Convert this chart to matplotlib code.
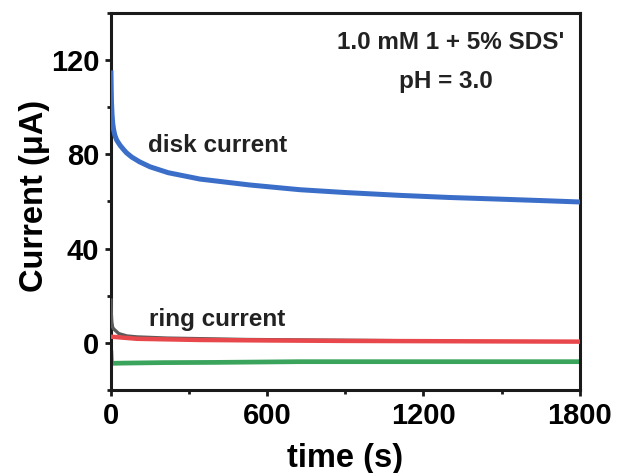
import numpy as np
import matplotlib
matplotlib.use("Agg")
import matplotlib.pyplot as plt
from matplotlib.ticker import MultipleLocator

plt.rcParams["font.family"] = ["Liberation Sans", "DejaVu Sans"]
plt.rcParams["font.weight"] = "bold"

# disk current (blue)
t_disk = [0, 1, 2, 4, 6.5, 10, 15, 22, 35, 50, 60, 80, 110, 150, 220, 342, 533, 725, 900, 1109, 1300, 1493, 1650, 1800]
i_disk = [114.5, 107, 102, 97, 93.3, 90.5, 88, 86, 83.8, 81.8, 80.6, 78.8, 76.8, 74.7, 72.2, 69.5, 67, 65, 63.8, 62.6, 61.7, 61.0, 60.4, 59.8]

# ring current, early transient (grey)
t_grey = [0, 1, 3, 6, 10, 15, 30, 61, 100, 215, 522, 1000, 1100]
i_grey = [18.2, 13, 9, 6.8, 6, 5.5, 4, 3, 2.6, 2.1, 1.5, 1.1, 1.0]

# ring current (red)
t_red = [0, 100, 342, 600, 900, 1200, 1500, 1800]
i_red = [2.7, 1.8, 1.3, 1.1, 0.9, 0.8, 0.7, 0.6]

# green trace
t_green = [0, 2, 50, 200, 400, 725, 1000, 1400, 1800]
i_green = [-4.1, -8.6, -8.5, -8.3, -8.2, -7.9, -7.9, -7.9, -7.9]

fig = plt.figure(figsize=(6.2, 4.73), dpi=100)
ax = fig.add_axes([0.179, 0.175, 0.756, 0.798])

ax.plot(t_green, i_green, color="#3aa35c", lw=3.4, zorder=2)
ax.plot(t_grey, i_grey, color="#5a5a5a", lw=2.4, zorder=3)
ax.plot(t_red, i_red, color="#e8474b", lw=3.2, zorder=4)
ax.plot(t_disk, i_disk, color="#3b6ec8", lw=3.6, zorder=5)

ax.set_xlim(0, 1800)
ax.set_ylim(-20, 140)
ax.xaxis.set_major_locator(MultipleLocator(600))
ax.xaxis.set_minor_locator(MultipleLocator(300))
ax.yaxis.set_minor_locator(MultipleLocator(20))
ax.set_yticks([0, 40, 80, 120])

for s in ax.spines.values():
    s.set_linewidth(2.2)
    s.set_color("#1a1a1a")
ax.tick_params(which="major", direction="out", length=4.5, width=2, labelsize=21, pad=4, color="#1a1a1a")
ax.tick_params(which="minor", direction="out", length=3, width=2, color="#1a1a1a")
ax.tick_params(top=False, right=False, which="both")

ax.set_xlabel("time (s)", fontsize=23.5, fontweight="bold", labelpad=9)
ax.set_ylabel("Current (\u03bcA)", fontsize=23.5, fontweight="bold")
ax.yaxis.set_label_coords(-0.13, 0.516)

txt = dict(fontsize=17.5, fontweight="bold", color="#222222", va="baseline")
ax.text(1305, 124.7, "1.0 mM 1 + 5% SDS'", ha="center", **txt)
ax.text(1286, 108.2, "pH = 3.0", ha="center", **txt)
ax.text(142, 81, "disk current", ha="left", **txt)
ax.text(146, 7.2, "ring current", ha="left", **txt)

fig.savefig("out.png", dpi=100)
